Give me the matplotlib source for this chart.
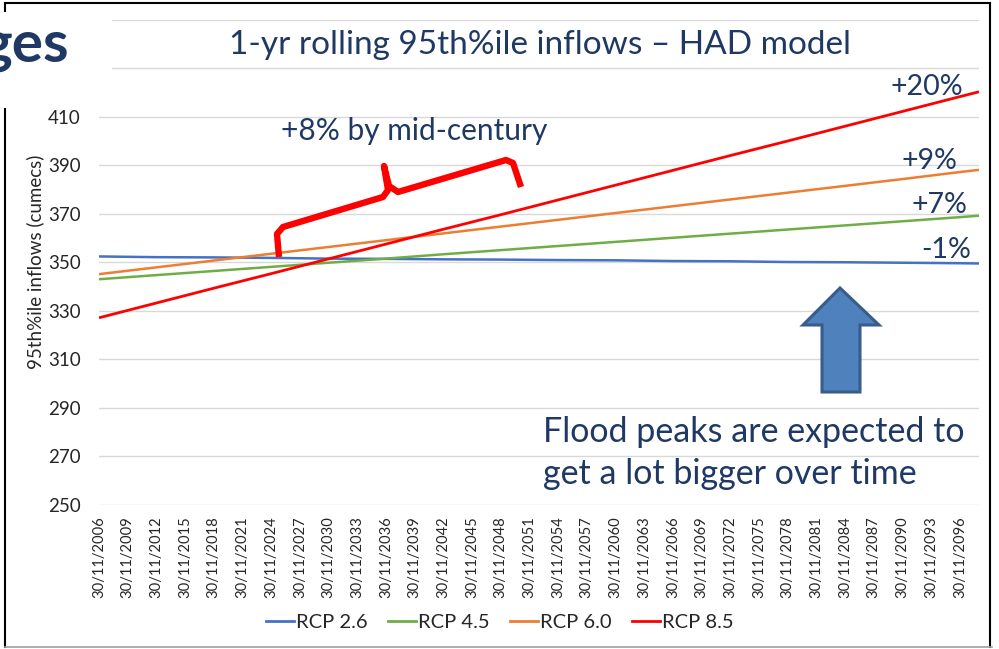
import matplotlib
matplotlib.use("Agg")
import matplotlib.pyplot as plt
from matplotlib.lines import Line2D
from matplotlib.patches import Rectangle, Polygon

plt.rcParams["font.family"] = ["Lato", "DejaVu Sans"]

# years after 30/11/2006
years_off = [0, 6, 12, 18, 24, 30, 36, 42, 48, 54, 60, 66, 72, 78, 84, 90, 92]
rcp26 = [352.5, 352.2, 352.1, 351.9, 351.6, 351.5, 351.3, 351.2, 351.0, 350.9,
         350.6, 350.5, 350.2, 350.1, 349.9, 349.7, 349.6]
rcp45 = [343.1, 344.8, 346.5, 348.2, 349.9, 351.6, 353.4, 355.1, 356.8, 358.5,
         360.2, 361.9, 363.6, 365.3, 367.0, 368.7, 369.3]
rcp60 = [345.2, 348.0, 350.8, 353.6, 356.4, 359.2, 362.0, 364.8, 367.6, 370.4,
         373.2, 376.0, 378.8, 381.6, 384.4, 387.3, 388.2]
rcp85 = [327.2, 333.3, 339.4, 345.4, 351.5, 357.6, 363.7, 369.7, 375.8, 381.9,
         388.0, 394.1, 400.1, 406.2, 412.3, 418.4, 420.4]
series_names = ["RCP 2.6", "RCP 4.5", "RCP 6.0", "RCP 8.5"]
series_colors = ["#4472C4", "#70AD47", "#ED7D31", "#FF0000"]

tick_years = list(range(2006, 2097, 3))
y_ticks = list(range(250, 451, 20))
# 430 and 450 sit under the slide heading box
y_labels = [str(v) if v <= 410 else "" for v in y_ticks]

NAVY = "#1F3864"
W, H = 999, 649


def fx(px):
    return px / W


def fy(py):
    return 1 - py / H


fig = plt.figure(figsize=(9.99, 6.49), dpi=100)
ax = fig.add_axes([fx(99), fy(505), 880 / W, 485 / H])

for vals, name, col in zip([rcp26, rcp45, rcp60, rcp85], series_names, series_colors):
    lw = 2.0 if col == "#FF0000" else 1.8
    ax.plot(years_off, vals, color=col, lw=lw, label=name, solid_capstyle="butt")

ax.set_xlim(0, 92)
ax.set_ylim(250, 450)
ax.set_yticks(y_ticks)
ax.set_yticklabels(y_labels, fontsize=13.5, color="#262626")
ax.set_xticks([y - 2006 for y in tick_years])
ax.set_xticklabels([f"30/11/{y}" for y in tick_years], rotation=90, fontsize=10.6,
                   color="#262626")
ax.tick_params(axis="y", length=0, pad=13)
ax.tick_params(axis="x", length=0, pad=8)
ax.grid(axis="y", color="#D9D9D9", lw=1.0)
ax.set_axisbelow(True)
for s in ax.spines.values():
    s.set_visible(False)

fig.text(fx(35), fy(262), "95th%ile inflows (cumecs)", rotation=90, ha="center",
         va="center", fontsize=13.5, color="#262626")

# title and annotations
fig.text(fx(540), fy(45), "1-yr rolling 95th%ile inflows \u2013 HAD model", ha="center",
         va="center", fontsize=24, color=NAVY)
fig.text(fx(414), fy(131), "+8% by mid-century", ha="center", va="center",
         fontsize=21.5, color=NAVY)
fig.text(fx(963), fy(87), "+20%", ha="right", va="center", fontsize=20.5, color=NAVY)
fig.text(fx(957), fy(161), "+9%", ha="right", va="center", fontsize=20.5, color=NAVY)
fig.text(fx(967), fy(205), "+7%", ha="right", va="center", fontsize=20.5, color=NAVY)
fig.text(fx(971), fy(250), "-1%", ha="right", va="center", fontsize=20.5, color=NAVY)
fig.text(fx(543), fy(432), "Flood peaks are expected to", ha="left", va="center",
         fontsize=24.5, color=NAVY)
fig.text(fx(543), fy(474), "get a lot bigger over time", ha="left", va="center",
         fontsize=24.5, color=NAVY)

# red brace
brace = [(279, 257), (277, 234), (283, 227), (383, 197), (388, 190), (384, 166),
         (389, 186), (398, 192), (506, 160), (513, 163), (521, 187)]
fig.add_artist(Line2D([fx(p[0]) for p in brace], [fy(p[1]) for p in brace],
                      color="#FF0000", lw=4.6, solid_joinstyle="round",
                      solid_capstyle="butt", zorder=6))

# up arrow
arrow = [(840, 288), (879, 325), (860, 325), (860, 392), (822, 392), (822, 325), (803, 325)]
fig.add_artist(Polygon([(fx(x), fy(y)) for x, y in arrow], closed=True,
                       facecolor="#4F81BD", edgecolor="#385D8A", lw=2.2, zorder=6))

# slide frame
fig.add_artist(Line2D([fx(5), fx(990)], [fy(3), fy(3)], color="black", lw=1.5))
fig.add_artist(Line2D([fx(5), fx(5)], [fy(3), fy(647)], color="black", lw=1.5))
fig.add_artist(Line2D([fx(990), fx(990)], [fy(3), fy(647)], color="black", lw=1.5))
fig.add_artist(Line2D([fx(5), fx(992)], [fy(647), fy(647)], color="#A0A0A0", lw=1.2))

# slide heading fragment over the chart corner
fig.add_artist(Rectangle((0, fy(108)), fx(112), fy(12) - fy(108), facecolor="white",
                         edgecolor="none", zorder=7))
fig.text(fx(69), fy(62), "ges", ha="right", va="baseline", fontsize=42,
         fontweight="bold", color=NAVY, zorder=8)

handles = [Line2D([], [], color=c, lw=2) for c in series_colors]
fig.legend(handles, series_names, loc="center", bbox_to_anchor=(fx(500), fy(622)),
           ncol=4, frameon=False, fontsize=14.5, handlelength=1.4, handletextpad=0.1,
           columnspacing=1.0, labelcolor="#262626")

fig.savefig("out.png", dpi=100)
